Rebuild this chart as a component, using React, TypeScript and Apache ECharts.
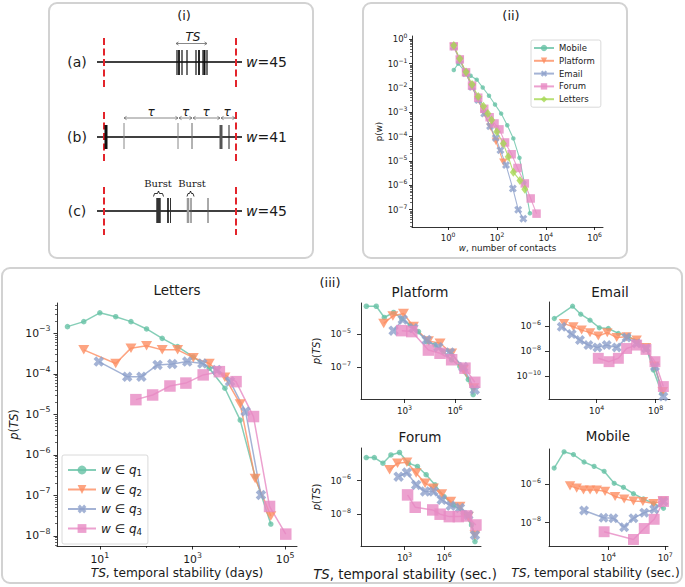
import React, { useEffect, useRef } from "react";
import * as echarts from "echarts";

const FONT = "DejaVu Sans";
const SERIF = "DejaVu Serif";
const TXT = "#1a1a1a";

// ---------- panel (ii): p(w) ----------
const DEG_NAMES = ["Mobile", "Platform", "Email", "Forum", "Letters"];
const MOBILE_W = [1.7, 2.6, 4.7, 8.3, 14.8, 26, 47, 83, 148, 263, 468, 832, 1318, 2239];
const MOBILE_P = [0.055, 0.1, 0.05, 0.032, 0.022, 0.0105, 0.0048, 0.0021, 8.9e-4, 2.95e-4, 8.5e-5, 1.35e-5, 1.3e-6, 7.2e-8];
const PLATFORM_W = [1.7, 3.0, 5.3, 9.5, 17, 30, 54, 90, 182];
const PLATFORM_P = [0.5, 0.14, 0.04, 0.011, 0.0032, 9e-4, 2.5e-4, 6.5e-5, 9e-6];
const EMAIL_W = [1.7, 3.0, 5.3, 9.5, 17, 30, 52, 89, 138, 234, 447, 741, 1200];
const EMAIL_P = [0.5, 0.14, 0.04, 0.011, 0.0032, 8.9e-4, 2.7e-4, 8.9e-5, 2.8e-5, 6.8e-6, 7.4e-7, 1e-7, 4.3e-8];
const FORUM_W = [1.7, 3.0, 5.4, 9.5, 17, 30, 50, 79, 126, 214, 398, 692, 1380, 2400, 4170];
const FORUM_P = [0.52, 0.15, 0.044, 0.0126, 0.004, 0.0014, 6.3e-4, 3.5e-4, 2e-4, 5.8e-5, 1.9e-5, 5.2e-6, 1.2e-6, 2.9e-7, 6.9e-8];
const LETTERS_W = [1.7, 3.0, 5.4, 9.5, 17, 28, 42, 60, 98, 182, 288, 468, 871, 1380];
const LETTERS_P = [0.56, 0.16, 0.045, 0.014, 0.0045, 0.0018, 8.9e-4, 4.8e-4, 1.6e-4, 5.2e-5, 1.5e-5, 3.5e-6, 1.6e-6, 6.9e-7];

// ---------- panel (iii): p(TS) per quartile ----------
const LET_Q1_TS = [2.0, 4.5, 10, 22, 47, 102, 222, 477, 1040, 2300, 5000, 10700, 22500, 49000];
const LET_Q1_P = [1.46e-3, 1.94e-3, 3.2e-3, 2.57e-3, 1.94e-3, 1.28e-3, 7.5e-4, 4.7e-4, 2.6e-4, 1.37e-4, 4.4e-5, 7.2e-6, 2.9e-7, 1.95e-8];
const LET_Q2_TS = [4.5, 22, 47, 102, 222, 477, 1040, 2300, 5000, 10700, 22500, 49000];
const LET_Q2_P = [3.9e-4, 1.8e-4, 4.3e-4, 4.9e-4, 3.9e-4, 3.9e-4, 2.5e-4, 1.8e-4, 8.2e-5, 1.8e-5, 2.6e-7, 3.1e-8];
const LET_Q3_TS = [9.5, 39, 79, 176, 366, 770, 1630, 3330, 6450, 14000, 30000];
const LET_Q3_P = [2.0e-4, 8.5e-5, 8.5e-5, 1.66e-4, 1.75e-4, 2.0e-4, 1.8e-4, 1.25e-4, 6.5e-5, 1.17e-5, 1.02e-7];
const LET_Q4_TS = [60, 138, 326, 720, 1700, 3800, 8700, 20700, 46000, 103000];
const LET_Q4_P = [2.3e-5, 3.0e-5, 5.0e-5, 5.9e-5, 9.4e-5, 1.13e-4, 6.4e-5, 8.8e-6, 5.3e-8, 1.1e-8];

const PLA_Q1_TS = [5.4, 21, 63, 224, 690, 2190, 6760, 20900, 64600, 204000, 631000, 1.95e6, 6.2e6, 1.2e7];
const PLA_Q1_P = [4.6e-4, 4.6e-4, 9.8e-5, 1.95e-4, 8.5e-5, 3.4e-5, 1.4e-5, 3.5e-6, 2.2e-6, 8.9e-7, 2.9e-7, 1.15e-7, 1.9e-8, 2.4e-9];
const PLA_Q2_TS = [58, 204, 870, 3390, 26300, 129000, 631000, 3.1e6, 1.3e7];
const PLA_Q2_P = [4.3e-5, 1.2e-4, 1.7e-4, 2.8e-5, 3.8e-6, 2.8e-6, 7.1e-7, 7.2e-8, 5.9e-9];
const PLA_Q3_TS = [224, 790, 3390, 20900, 102000, 501000, 3.1e6, 1.5e7];
const PLA_Q3_P = [1.6e-5, 7.4e-5, 2.2e-5, 4.4e-6, 1.6e-6, 7.8e-7, 1.05e-7, 4.7e-9];
const PLA_Q4_TS = [690, 2700, 26300, 129000, 631000, 3.9e6, 1.5e7];
const PLA_Q4_P = [1.6e-5, 1.4e-5, 1.1e-6, 7.1e-7, 2.9e-7, 9.1e-8, 1.3e-8];

const EM_Q1_TS = [13.5, 234, 832, 3550, 15100, 61700, 295000, 1.4e6, 5.1e6, 2.5e7, 6.9e7, 2.6e8];
const EM_Q1_P = [4.1e-6, 4.0e-5, 9.1e-6, 3.0e-6, 7.4e-7, 6.5e-7, 2.6e-7, 1.6e-7, 5.6e-8, 1.35e-8, 3.0e-10, 4.1e-12];
const EM_Q2_TS = [62, 263, 955, 3550, 12900, 52500, 229000, 1.07e6, 5.1e6, 2.2e7, 8.1e7, 3.0e8];
const EM_Q2_P = [1.6e-6, 8.9e-7, 4.8e-7, 3.0e-7, 1.6e-7, 3.0e-7, 1.2e-7, 1.4e-7, 7.6e-8, 1.95e-8, 6.3e-10, 5.6e-12];
const EM_Q3_TS = [43, 204, 741, 2750, 11200, 47900, 229000, 1.07e6, 5.1e6, 2.2e7, 8.9e7, 3.3e8];
const EM_Q3_P = [8.9e-7, 2.3e-7, 7.6e-8, 3.0e-8, 1.95e-8, 3.0e-8, 1.95e-8, 1.2e-7, 4.1e-8, 1.6e-8, 5.6e-10, 2.2e-12];
const EM_Q4_TS = [12900, 69200, 295000, 1.07e6, 5.1e6, 2.2e7, 8.9e7, 3.3e8];
const EM_Q4_P = [2.6e-9, 1.4e-9, 2.6e-9, 1.6e-8, 3.0e-8, 1.35e-8, 1.4e-9, 1.4e-11];

const FO_Q1_TS = [1.26, 5.1, 23, 93, 417, 2000, 9550, 43700, 209000, 1e6, 5.1e6, 2.9e7, 1.2e8, 2.2e8];
const FO_Q1_P = [2.3e-5, 2.3e-5, 1.07e-5, 3.3e-5, 4.6e-5, 1.07e-5, 6.8e-6, 2.2e-6, 5.5e-7, 1.1e-7, 3.5e-8, 1.15e-8, 2.3e-9, 2.4e-10];
const FO_Q2_TS = [74, 295, 1510, 7590, 36300, 155000, 661000, 3.2e6, 1.6e7, 6.9e7, 2.2e8];
const FO_Q2_P = [4.3e-6, 1.07e-5, 1.2e-5, 2.8e-6, 6.9e-7, 3.5e-7, 1.6e-7, 5.6e-8, 2.9e-8, 7.2e-9, 5.9e-10];
const FO_Q3_TS = [355, 1510, 7590, 36300, 155000, 661000, 3.2e6, 1.6e7, 6.9e7, 2.2e8];
const FO_Q3_P = [1.7e-6, 3.0e-6, 5.5e-7, 2.2e-7, 2.2e-7, 7.1e-8, 3.2e-8, 2.3e-8, 9.1e-9, 5.9e-10];
const FO_Q4_TS = [1700, 6460, 138000, 501000, 2.5e6, 1.2e7, 5.1e7, 2.6e8];
const FO_Q4_P = [1.4e-7, 2.6e-8, 1.8e-8, 1e-8, 7.2e-9, 7.2e-9, 7.9e-9, 2.3e-9];

const MO_Q1_TS = [13.5, 45, 141, 513, 1740, 5890, 20000, 61700, 209000, 708000, 2.4e6, 8.1e6];
const MO_Q1_P = [6.8e-6, 4.7e-5, 3.4e-5, 1.4e-5, 8.3e-6, 4.6e-6, 1.1e-6, 6.8e-7, 3.2e-7, 1.7e-7, 1.0e-7, 5.6e-8];
const MO_Q2_TS = [93, 209, 479, 1070, 2400, 6600, 22400, 67600, 209000, 661000, 2.4e6, 7.4e6];
const MO_Q2_P = [8.1e-7, 6.2e-7, 5.0e-7, 5.0e-7, 5.0e-7, 4.2e-7, 2.3e-7, 1.7e-7, 1.35e-7, 1.26e-7, 1.0e-7, 1.35e-7];
const MO_Q3_TS = [513, 5500, 18200, 67600, 209000, 776000, 2.6e6, 8.1e6];
const MO_Q3_P = [4.3e-8, 1.8e-8, 1.7e-8, 5.8e-9, 1.7e-8, 3.3e-8, 5.0e-8, 1.26e-7];
const MO_Q4_TS = [5890, 209000, 776000, 2.6e6, 8.1e6];
const MO_Q4_P = [3.4e-9, 1.35e-9, 5.0e-9, 1.5e-8, 1.26e-7];

const Q_NAMES = ["q1", "q2", "q3", "q4"];
const PANEL_TITLES = ["Letters", "Platform", "Email", "Forum", "Mobile"];

// ---------- tick values ----------
const DEG_X_TICKS = [1, 100, 1e4, 1e6];
const DEG_Y_TICKS = [1e-7, 1e-6, 1e-5, 1e-4, 1e-3, 1e-2, 1e-1, 1];
const LET_X_TICKS = [10, 1e3, 1e5];
const LET_X_MINOR = [100, 1e4];
const LET_Y_TICKS = [1e-8, 1e-7, 1e-6, 1e-5, 1e-4, 1e-3];
const PLA_X_TICKS = [1e3, 1e6];
const PLA_Y_TICKS = [1e-7, 1e-5];
const EM_X_TICKS = [1e4, 1e8];
const EM_Y_TICKS = [1e-10, 1e-8, 1e-6];
const FO_X_TICKS = [1e3, 1e6];
const FO_Y_TICKS = [1e-8, 1e-6];
const MO_X_TICKS = [1e4, 1e7];
const MO_Y_TICKS = [1e-8, 1e-6];

// ---------- styles ----------
const Q_COLORS = ["rgba(102,194,165,0.8)", "rgba(252,141,98,0.8)", "rgba(141,160,203,0.8)", "rgba(231,138,195,0.8)"];
const DEG_COLORS = ["rgba(102,194,165,0.8)", "rgba(252,141,98,0.8)", "rgba(141,160,203,0.8)", "rgba(231,138,195,0.8)", "rgba(166,216,84,0.8)"];
const SYM_TRI = "path://M0,0L10,0L5,8.7Z";
const SYM_X = "path://M0,2.6L2.6,0L5,2.4L7.4,0L10,2.6L7.6,5L10,7.4L7.4,10L5,7.6L2.6,10L0,7.4L2.4,5Z";

function expLabel(v: number): string {
  const e = Math.round(Math.log10(v));
  return `{b|10}{s|${e < 0 ? "\u2212" + -e : e}}`;
}
function supRich(fs: number) {
  return {
    b: { fontSize: fs, fontFamily: FONT, color: TXT },
    s: { fontSize: Math.round(fs * 0.72 * 10) / 10, fontFamily: FONT, color: TXT, padding: [0, 0, fs * 0.85, 0] },
  };
}
function decadeMinors(lo: number, hi: number): number[] {
  const out: number[] = [];
  for (let e = Math.round(Math.log10(lo)); e < Math.round(Math.log10(hi)); e++) {
    for (let m = 2; m <= 9; m++) out.push(m * Math.pow(10, e));
  }
  return out;
}

const GRIDS = [
  { left: 412, top: 36, width: 191, height: 191 },
  { left: 57, top: 303, width: 240, height: 243 },
  { left: 361, top: 303, width: 120, height: 96 },
  { left: 549, top: 302, width: 121, height: 97 },
  { left: 361, top: 448, width: 120, height: 98 },
  { left: 549, top: 449, width: 119, height: 97 },
];

const TS_DAYS = "{i|TS}, temporal stability (days)";
const TS_SEC = "{i|TS}, temporal stability (sec.)";
const P_TS = "{i|p}({i|TS})";

const AXES: any[] = [
  { x: [0.033, 2.2e6], y: [1.95e-8, 1.37], xt: DEG_X_TICKS, yt: DEG_Y_TICKS, fs: 8.5, tl: 3, xm: 4, ym: 4.5,
    xName: "{i|w}, number of contacts", xGap: 15, xFs: 8.7, xPad: 0, yName: "p(w)", yGap: 27, yFs: 8.7 },
  { x: [1.19, 1.8e5], y: [5.6e-9, 5.6e-3], xt: LET_X_TICKS, yt: LET_Y_TICKS, fs: 10.8, tl: 3.5, xm: 5, ym: 6.5,
    xName: TS_DAYS, xGap: 21, xFs: 12.2, xPad: 0, yName: P_TS, yGap: 37, yFs: 11.5 },
  { x: [2.6, 3.5e7], y: [1.3e-9, 7.2e-4], xt: PLA_X_TICKS, yt: PLA_Y_TICKS, fs: 8.8, tl: 4, xm: 5, ym: 10,
    xName: "", yName: P_TS, yGap: 40, yFs: 10 },
  { x: [5.9, 9.3e8], y: [1.4e-12, 8.7e-5], xt: EM_X_TICKS, yt: EM_Y_TICKS, fs: 8.8, tl: 4, xm: 5, ym: 8,
    xName: "", yName: "" },
  { x: [0.5, 6.3e8], y: [1.3e-10, 8.5e-5], xt: FO_X_TICKS, yt: FO_Y_TICKS, fs: 8.8, tl: 4, xm: 5, ym: 10,
    xName: TS_SEC, xGap: 22, xFs: 13.3, xPad: 32, yName: P_TS, yGap: 40, yFs: 10 },
  { x: [7.2, 1.4e7], y: [6.2e-10, 6.6e-5], xt: MO_X_TICKS, yt: MO_Y_TICKS, fs: 8.8, tl: 4, xm: 5, ym: 8,
    xName: TS_SEC, xGap: 21, xFs: 12.2, xPad: 26, yName: "" },
];

function mainAxis(kind: "x" | "y", g: number) {
  const a = AXES[g];
  const isX = kind === "x";
  const range = isX ? a.x : a.y;
  const ticks = isX ? a.xt : a.yt;
  const name = isX ? a.xName : a.yName;
  const nfs = isX ? a.xFs : a.yFs;
  return {
    type: "log",
    logBase: 10,
    gridIndex: g,
    position: isX ? "bottom" : "left",
    min: range[0],
    max: range[1],
    axisLine: { show: true, onZero: false, lineStyle: { color: "#000", width: 0.8 } },
    axisTick: { show: true, length: a.tl, customValues: ticks, lineStyle: { color: "#000", width: 0.8 } },
    minorTick: { show: false },
    splitLine: { show: false },
    axisLabel: {
      show: true,
      customValues: ticks,
      formatter: expLabel,
      rich: supRich(a.fs),
      margin: isX ? a.xm : a.ym,
      color: TXT,
      fontFamily: FONT,
      fontSize: a.fs,
    },
    name: name || "",
    nameLocation: "middle",
    nameGap: isX ? a.xGap : a.yGap,
    nameRotate: isX ? 0 : 90,
    nameTextStyle: {
      fontFamily: FONT,
      fontSize: nfs,
      color: TXT,
      padding: isX && a.xPad ? [0, a.xPad, 0, 0] : 0,
      rich: { i: { fontStyle: "italic", fontFamily: FONT, fontSize: nfs, color: TXT } },
    },
  };
}

function minorAxis(kind: "x" | "y", g: number, vals: number[]) {
  const a = AXES[g];
  const range = kind === "x" ? a.x : a.y;
  return {
    type: "log",
    logBase: 10,
    gridIndex: g,
    position: kind === "x" ? "bottom" : "left",
    min: range[0],
    max: range[1],
    axisLine: { show: false },
    axisLabel: { show: false },
    splitLine: { show: false },
    axisTick: { show: true, length: 2, customValues: vals, lineStyle: { color: "#000", width: 0.6 } },
  };
}

const Q_PANELS = [
  { grid: 1, ts: [LET_Q1_TS, LET_Q2_TS, LET_Q3_TS, LET_Q4_TS], p: [LET_Q1_P, LET_Q2_P, LET_Q3_P, LET_Q4_P], k: 1 },
  { grid: 2, ts: [PLA_Q1_TS, PLA_Q2_TS, PLA_Q3_TS, PLA_Q4_TS], p: [PLA_Q1_P, PLA_Q2_P, PLA_Q3_P, PLA_Q4_P], k: 1 },
  { grid: 3, ts: [EM_Q1_TS, EM_Q2_TS, EM_Q3_TS, EM_Q4_TS], p: [EM_Q1_P, EM_Q2_P, EM_Q3_P, EM_Q4_P], k: 0.95 },
  { grid: 4, ts: [FO_Q1_TS, FO_Q2_TS, FO_Q3_TS, FO_Q4_TS], p: [FO_Q1_P, FO_Q2_P, FO_Q3_P, FO_Q4_P], k: 1 },
  { grid: 5, ts: [MO_Q1_TS, MO_Q2_TS, MO_Q3_TS, MO_Q4_TS], p: [MO_Q1_P, MO_Q2_P, MO_Q3_P, MO_Q4_P], k: 0.95 },
];

const Q_SYMBOLS = [
  { symbol: "circle", size: [5.5, 5.5] },
  { symbol: SYM_TRI, size: [11, 9.5] },
  { symbol: SYM_X, size: [10.5, 10.5] },
  { symbol: "rect", size: [11.5, 11.5] },
];
const DEG_SYMBOLS = [
  { symbol: "circle", size: [4.5, 4.5] },
  { symbol: SYM_TRI, size: [8.5, 7.4] },
  { symbol: SYM_X, size: [8, 8] },
  { symbol: "rect", size: [8.5, 8.5] },
  { symbol: "diamond", size: [7, 9] },
];
const DEG_DATA = [
  [MOBILE_W, MOBILE_P],
  [PLATFORM_W, PLATFORM_P],
  [EMAIL_W, EMAIL_P],
  [FORUM_W, FORUM_P],
  [LETTERS_W, LETTERS_P],
];

function zip(xs: number[], ys: number[]) {
  return xs.map((x, i) => [x, ys[i]]);
}

function buildSeries() {
  const series: any[] = [];
  DEG_NAMES.forEach((name, i) => {
    series.push({
      type: "line",
      name,
      xAxisIndex: 0,
      yAxisIndex: 0,
      data: zip(DEG_DATA[i][0], DEG_DATA[i][1]),
      symbol: DEG_SYMBOLS[i].symbol,
      symbolSize: DEG_SYMBOLS[i].size,
      lineStyle: { color: DEG_COLORS[i], width: 1.1 },
      itemStyle: { color: DEG_COLORS[i] },
      emphasis: { disabled: true },
      silent: true,
    });
  });
  Q_PANELS.forEach((pn) => {
    Q_NAMES.forEach((qn, q) => {
      const s = Q_SYMBOLS[q];
      series.push({
        type: "line",
        name: qn,
        xAxisIndex: pn.grid,
        yAxisIndex: pn.grid,
        data: zip(pn.ts[q], pn.p[q]),
        symbol: s.symbol,
        symbolSize: [s.size[0] * pn.k, s.size[1] * pn.k],
        lineStyle: { color: Q_COLORS[q], width: 1.5 },
        itemStyle: { color: Q_COLORS[q] },
        emphasis: { disabled: true },
        silent: true,
      });
    });
  });
  return series;
}

function text(x: number, y: number, t: string, fs: number, extra: any = {}) {
  return {
    type: "text",
    x,
    y,
    silent: true,
    style: {
      text: t,
      fontSize: fs,
      fontFamily: FONT,
      fill: TXT,
      align: "center",
      verticalAlign: "middle",
      ...extra,
      rich: extra.rich,
    },
  };
}

function vline(x: number, y1: number, y2: number, color: string, w: number, dash?: number[]) {
  return {
    type: "line",
    silent: true,
    shape: { x1: x, y1, x2: x, y2 },
    style: { stroke: color, lineWidth: w, lineDash: dash },
  };
}

function dblArrow(x1: number, x2: number, y: number) {
  const st = { stroke: "#6b6b6b", lineWidth: 0.8, fill: "none" };
  return [
    { type: "line", silent: true, shape: { x1, y1: y, x2, y2: y }, style: st },
    { type: "polyline", silent: true, shape: { points: [[x1 + 2.5, y - 1.6], [x1, y], [x1 + 2.5, y + 1.6]] }, style: st },
    { type: "polyline", silent: true, shape: { points: [[x2 - 2.5, y - 1.6], [x2, y], [x2 - 2.5, y + 1.6]] }, style: st },
  ];
}

function buildGraphic() {
  const els: any[] = [];
  const frame = { fill: "none", stroke: "#d2d2d2", lineWidth: 2 };
  els.push({ type: "rect", silent: true, shape: { x: 49, y: 3, width: 264, height: 255, r: 8 }, style: frame });
  els.push({ type: "rect", silent: true, shape: { x: 363, y: 3, width: 264, height: 255, r: 8 }, style: frame });
  els.push({ type: "rect", silent: true, shape: { x: 2, y: 268, width: 680, height: 315, r: 8 }, style: frame });

  els.push(text(184, 15, "(i)", 13));
  els.push(text(511, 15, "(ii)", 13));
  els.push(text(330, 282, "(iii)", 13));

  // subplot titles
  els.push(text(177, 290, PANEL_TITLES[0], 13.5));
  els.push(text(420, 292, PANEL_TITLES[1], 13.5));
  els.push(text(610, 291.5, PANEL_TITLES[2], 13.5));
  els.push(text(420, 436.5, PANEL_TITLES[3], 13.5));
  els.push(text(608, 436, PANEL_TITLES[4], 13.5));

  // panel (i) schematic
  const rows = [62, 137, 211];
  const rowLab = ["(a)", "(b)", "(c)"];
  const rowW = ["45", "41", "45"];
  const dashY = [[38, 87], [112, 162], [187, 235]];
  rows.forEach((y, i) => {
    els.push({ type: "line", silent: true, shape: { x1: 97, y1: y, x2: 242, y2: y }, style: { stroke: "#000", lineWidth: 1.6 } });
    els.push(text(77, y, rowLab[i], 14));
    els.push(text(246, y, `{i|w}=${rowW[i]}`, 14, { align: "left", rich: { i: { fontStyle: "italic", fontSize: 14, fontFamily: FONT, fill: TXT } } }));
    els.push(vline(104, dashY[i][0], dashY[i][1], "#e3242b", 2, [7, 3.5]));
    els.push(vline(236, dashY[i][0], dashY[i][1], "#e3242b", 2, [7, 3.5]));
  });
  // (a)
  const aX = [177, 179, 182, 187, 196, 199, 203, 204.5, 207];
  const aW = [1.2, 1.8, 1.2, 1.2, 1.2, 1.8, 1.2, 2.0, 1.2];
  aX.forEach((x, i) => els.push(vline(x, 50, 75, "#111", aW[i])));
  dblArrow(176, 207, 43.5).forEach((e) => els.push(e));
  els.push(text(193, 36.5, "TS", 12, { fontStyle: "italic" }));
  // (b)
  const bEv: [number, number, string, number][] = [
    [106, 3, "#111", 125], [124, 1, "#888", 123], [178, 1, "#888", 123], [192, 1, "#666", 123], [221, 3, "#555", 125], [229, 1, "#222", 125],
  ];
  bEv.forEach(([x, w, c, y1]) => els.push(vline(x, y1, 149, c, w)));
  const tau = [[124, 178], [179, 192], [193, 220], [221, 235]];
  tau.forEach(([x1, x2]) => dblArrow(x1, x2, 118).forEach((e) => els.push(e)));
  [151, 185.5, 206, 227].forEach((x) => els.push(text(x, 111.5, "\u03c4", 12, { fontStyle: "italic" })));
  // (c)
  const cEv: [number, number, string][] = [
    [158.5, 4.5, "#333"], [168, 1.6, "#111"], [170.5, 1, "#333"], [188, 2.5, "#999"], [191, 1, "#555"], [208, 1, "#555"],
  ];
  cEv.forEach(([x, w, c]) => els.push(vline(x, 198, 223, c, w)));
  els.push(text(158, 183, "Burst", 10, { fontFamily: SERIF }));
  els.push(text(192, 183, "Burst", 10, { fontFamily: SERIF }));
  const braceSt = { stroke: "#000", lineWidth: 0.8, fill: "none" };
  els.push({ type: "polyline", silent: true, shape: { points: [[153.5, 196.5], [154.5, 193.5], [157.5, 193.5], [158.5, 191], [159.5, 193.5], [162.5, 193.5], [163.5, 196.5]] }, style: braceSt });
  els.push({ type: "polyline", silent: true, shape: { points: [[187, 196.5], [188, 193.5], [189.5, 193.5], [190.5, 191], [191.5, 193.5], [193, 193.5], [194, 196.5]] }, style: braceSt });
  return els;
}

function buildOption() {
  const xAxis: any[] = [];
  const yAxis: any[] = [];
  GRIDS.forEach((_, g) => {
    xAxis.push(mainAxis("x", g));
    yAxis.push(mainAxis("y", g));
  });
  yAxis.push(minorAxis("y", 0, decadeMinors(1e-8, 1)));
  yAxis.push(minorAxis("y", 1, decadeMinors(1e-9, 1e-2)));
  xAxis.push(minorAxis("x", 1, LET_X_MINOR));

  return {
    animation: false,
    backgroundColor: "#fff",
    textStyle: { fontFamily: FONT },
    grid: GRIDS.map((g) => ({ ...g, containLabel: false })),
    xAxis,
    yAxis,
    legend: [
      {
        data: DEG_NAMES,
        orient: "vertical",
        left: 531,
        top: 40,
        itemWidth: 20,
        itemHeight: 8,
        itemGap: 2.8,
        padding: [3, 6, 3, 2],
        backgroundColor: "#fff",
        borderColor: "#d0d0d0",
        borderWidth: 0.8,
        borderRadius: 2,
        selectedMode: false,
        textStyle: { fontFamily: FONT, fontSize: 8.5, lineHeight: 10, color: TXT },
      },
      {
        data: Q_NAMES,
        orient: "vertical",
        left: 62,
        top: 455,
        itemWidth: 28,
        itemHeight: 11,
        itemGap: 5,
        padding: [8, 6, 8, 5],
        backgroundColor: "#fff",
        borderColor: "#d0d0d0",
        borderWidth: 0.8,
        borderRadius: 2,
        selectedMode: false,
        formatter: (n: string) => `{i|w} \u2208 {i|q}{s|${n.slice(1)}}`,
        textStyle: {
          fontFamily: FONT,
          fontSize: 12,
          lineHeight: 14,
          color: TXT,
          rich: {
            i: { fontStyle: "italic", fontFamily: FONT, fontSize: 12, color: TXT },
            s: { fontFamily: FONT, fontSize: 8.5, color: TXT, padding: [6, 0, 0, 0] },
          },
        },
      },
    ],
    series: buildSeries(),
    graphic: { elements: buildGraphic() },
  };
}

export default function App() {
  const ref = useRef<HTMLDivElement>(null);
  useEffect(() => {
    if (!ref.current) return;
    const chart = echarts.init(ref.current, null, { renderer: "svg" });
    chart.setOption(buildOption() as any);
    return () => chart.dispose();
  }, []);
  return (
    <div
      ref={ref}
      style={{ position: "fixed", left: 0, top: 0, width: 685, height: 587, background: "#fff" }}
    />
  );
}
